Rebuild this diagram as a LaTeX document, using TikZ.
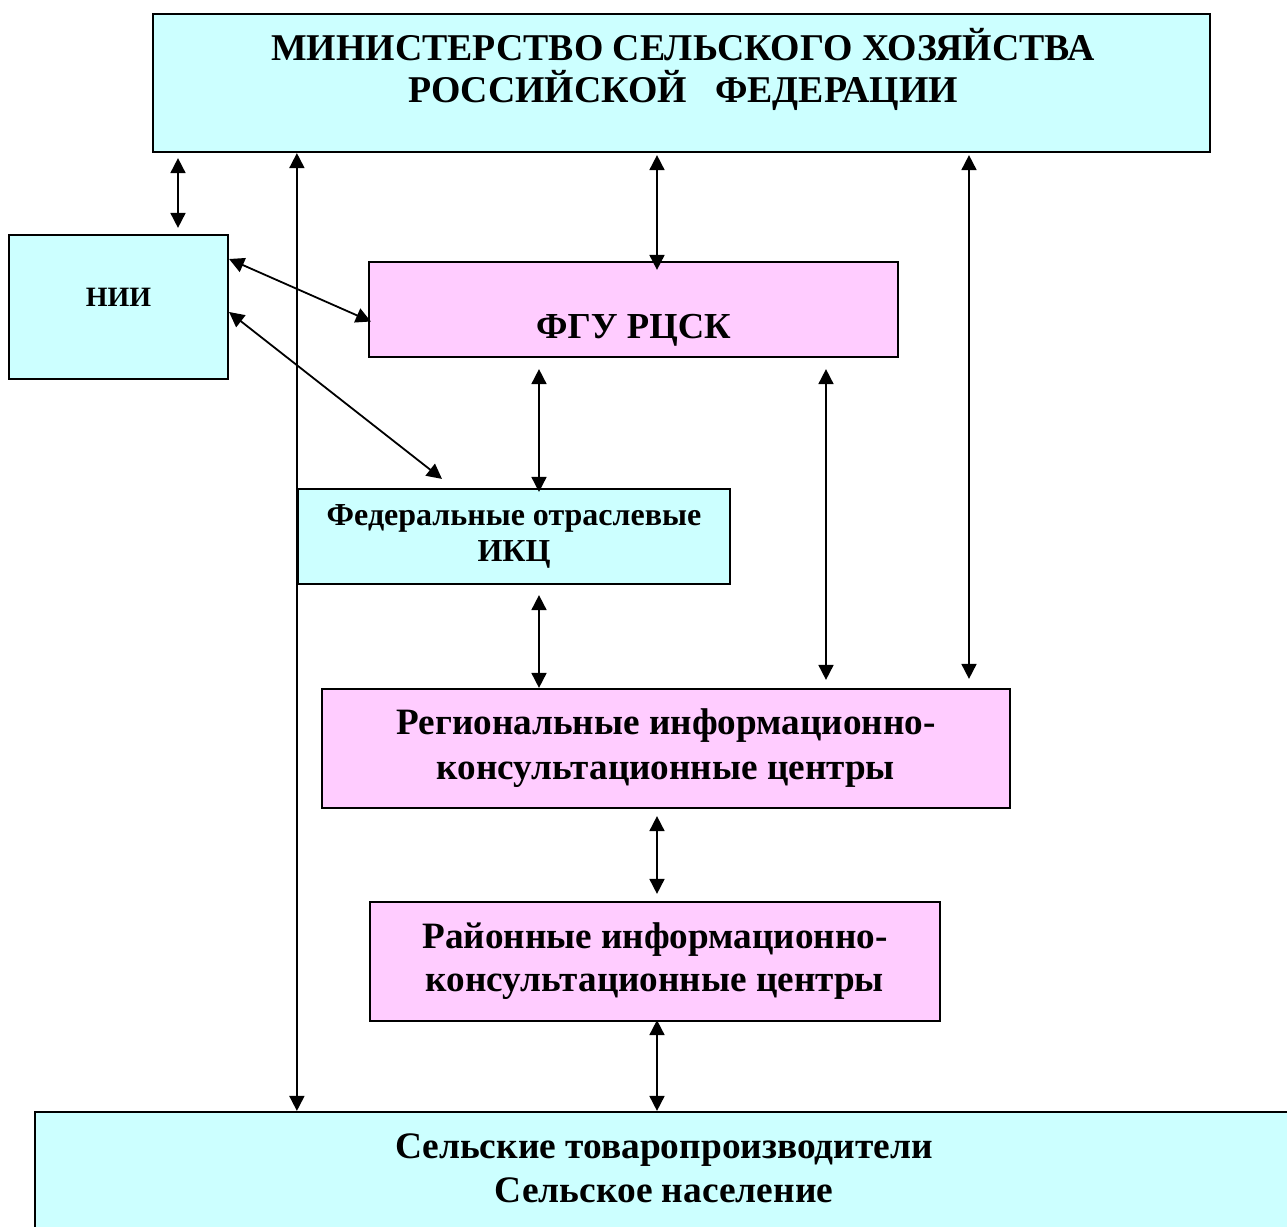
\documentclass[tikz,border=0pt]{standalone}
\usepackage{fontspec}
\setmainfont{Liberation Serif}
\usetikzlibrary{arrows.meta,calc}

\definecolor{boxcyan}{HTML}{CCFFFF}
\definecolor{boxpink}{HTML}{FFCCFF}

\begin{document}
\begin{tikzpicture}[x=0.5pt, y=-0.5pt,
        box/.style = {draw, line width=1.1pt, inner sep=0pt, font=\bfseries},
        cyanbox/.style = {box, fill=boxcyan},
        pinkbox/.style = {box, fill=boxpink},
        boxtext/.style = {align=center, inner sep=0pt, font=\bfseries},
        biarrow/.style = {draw, line width=0.9pt, {Triangle[length=7.5pt,width=7.5pt]}-{Triangle[length=7.5pt,width=7.5pt]}}]
                \useasboundingbox (0,0) rectangle (1287,1227);
                \clip (0,0) rectangle (1287,1227);
                % boxes
                \node[cyanbox, minimum width=528.5pt, minimum height=69pt] (min) at (681.5,83) {};
                \node[boxtext, font=\bfseries\fontsize{18.9}{21}\selectfont] (minText) at (683,69)
                    {МИНИСТЕРСТВО СЕЛЬСКОГО ХОЗЯЙСТВА\\РОССИЙСКОЙ \ \ ФЕДЕРАЦИИ};
                \node[cyanbox, minimum width=109.5pt, minimum height=72pt, text depth=10pt,
                    font=\bfseries\fontsize{14}{16}\selectfont] (nii) at (118.5,307) {НИИ};
                \node[pinkbox, minimum width=264.5pt, minimum height=47.5pt, text height=29pt, text depth=0pt,
                    font=\bfseries\fontsize{18.3}{20}\selectfont] (fgu) at (633.5,309.5) {ФГУ РЦСК};
                \node[cyanbox, align=center, minimum width=216pt, minimum height=47.5pt,
                    font=\bfseries\fontsize{16}{18}\selectfont] (fed) at (514,536.5)
                    {Федеральные отраслевые\\ИКЦ};
                \node[pinkbox, align=center, minimum width=344pt, minimum height=59.5pt,
                    font=\bfseries\fontsize{18.6}{22.5}\selectfont] (reg) at (666,748.5)
                    {Региональные информационно-\\консультационные центры};
                \node[pinkbox, align=center, minimum width=285pt, minimum height=59.5pt,
                    font=\bfseries\fontsize{18.6}{21.5}\selectfont] (ray) at (655,961.5)
                    {Районные информационно-\\консультационные центры};
                \node[cyanbox, minimum width=632.5pt, minimum height=66.5pt] (sel) at (667.5,1178.5) {};
                \node[boxtext, font=\bfseries\fontsize{18.7}{22}\selectfont] (selText) at (664,1168)
                    {Сельские товаропроизводители\\Сельское население};
                % arrows
                \path[biarrow] ($(min.south -| 178,0)+(0,5)$) -- ($(nii.north -| 178,0)+(0,-6)$);
                \path[biarrow] (min.south -| fed.west) -- (sel.north -| fed.west);
                \path[biarrow] ($(min.south -| 657,0)+(0,2)$) -- ($(fgu.north -| 657,0)+(0,9)$);
                \path[biarrow] ($(min.south -| 969,0)+(0,2)$) -- ($(reg.north -| 969,0)+(0,-9)$);
                \path[biarrow] ($(nii.east)+(0,-48)$) -- ($(fgu.west)+(3,12)$);
                \path[biarrow] ($(nii.east)+(0,5)$) -- ($(fed.north)+(-72,-9)$);
                \path[biarrow] ($(fgu.south -| 539,0)+(0,11)$) -- ($(fed.north -| 539,0)+(0,4)$);
                \path[biarrow] ($(fgu.south -| 826,0)+(0,11)$) -- ($(reg.north -| 826,0)+(0,-8)$);
                \path[biarrow] ($(fed.south -| 539,0)+(0,10)$) -- (reg.north -| 539,0);
                \path[biarrow] ($(reg.south -| 657,0)+(0,7)$) -- ($(ray.north -| 657,0)+(0,-7)$);
                \path[biarrow] ($(ray.south -| 657,0)+(0,-2)$) -- (sel.north -| 657,0);
            \end{tikzpicture}
\end{document}
